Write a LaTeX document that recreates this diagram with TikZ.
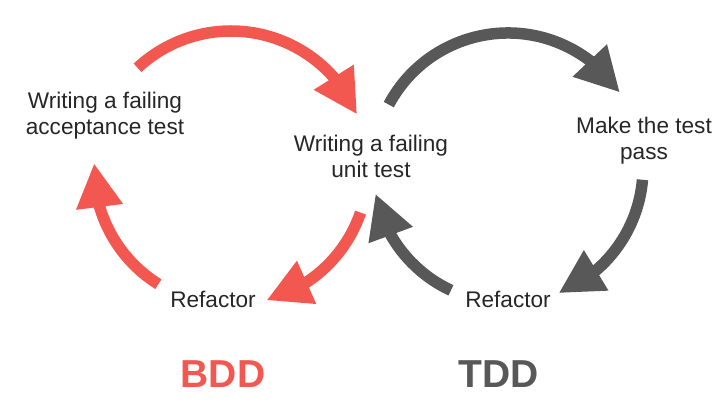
\documentclass[tikz,border=0pt]{standalone}
\usepackage{fontspec}
\setmainfont{Liberation Sans}
\usetikzlibrary{arrows.meta,bending}
\definecolor{bddred}{RGB}{242,88,80}
\definecolor{tddgray}{RGB}{88,88,88}
\definecolor{txtgray}{RGB}{38,38,38}
\begin{document}
\begin{tikzpicture}[x=0.5pt,y=0.5pt,
  lbl/.style={align=center, text=txtgray, inner sep=0pt, font=\fontsize{11.3}{13}\selectfont},
  big/.style={inner sep=0pt, anchor=base, font=\fontsize{19.5}{22}\selectfont\bfseries},
  cyc/.style={line width=5.75pt, -{Triangle[length=22pt,width=22pt]}}]
\useasboundingbox (0,0) rectangle (728,407);
% labels
\node[lbl] (acc) at (105,291) {Writing a failing\\acceptance test};
\node[lbl] (unit) at (371,251) {Writing a failing\\unit test};
\node[lbl] (pass) at (644,266) {Make the test\\pass};
\node[lbl, anchor=base] (bddref) at (213,99) {Refactor};
\node[lbl, anchor=base] (tddref) at (508,99) {Refactor};
\node[big, text=bddred] (bdd) at (223,19) {BDD};
\node[big, text=tddgray] (tdd) at (499,19) {TDD};
% cycle centres
\coordinate (bddc) at (231,239);
\coordinate (tddc) at (508,239);
% BDD loop
\draw[cyc, bddred] ([shift={(133:137)}]bddc) arc[start angle=133, end angle=23, radius=137];
\draw[cyc, bddred] ([shift={(-19:137)}]bddc) arc[start angle=-19, end angle=-75, radius=137];
\draw[cyc, bddred] ([shift={(238:137)}]bddc) arc[start angle=238, end angle=178, radius=137];
% TDD loop
\draw[cyc, tddgray] ([shift={(152:135)}]tddc) arc[start angle=152, end angle=34, radius=135];
\draw[cyc, tddgray] ([shift={(-5:135)}]tddc) arc[start angle=-5, end angle=-68, radius=135];
\draw[cyc, tddgray] ([shift={(245:135)}]tddc) arc[start angle=245, end angle=191, radius=135];
\end{tikzpicture}
\end{document}
